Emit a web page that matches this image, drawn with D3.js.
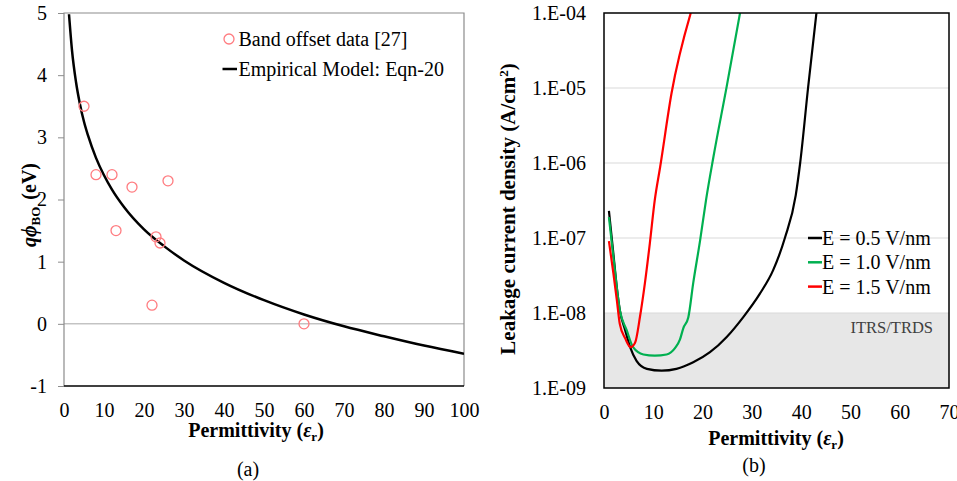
<!DOCTYPE html>
<html>
<head>
<meta charset="utf-8">
<script src="https://cdn.jsdelivr.net/npm/d3@7"></script>
<style>
  body { margin: 0; background: #fff; }
  svg, svg text { font-family: "Liberation Serif", "Times New Roman", serif; }
</style>
</head>
<body>
<div id="chart"></div>
<script>
// (a) band offset data points [permittivity, q*phi_BO]
var bandOffsetData = [[5, 3.5], [8, 2.4], [12, 2.4], [17, 2.2], [26, 2.3], [13, 1.5], [23, 1.4], [24, 1.3], [22, 0.3], [60, 0]];
// (a) empirical model curve
var modelCurve = [[1.25, 4.98], [2, 4.4], [3, 3.89], [4, 3.53], [5, 3.25], [6, 3.03], [8, 2.67], [10, 2.39], [12, 2.16], [15, 1.88], [20, 1.52], [25, 1.25], [30, 1.02], [40, 0.66], [50, 0.38], [60, 0.15], [70, -0.04], [80, -0.2], [90, -0.35], [100, -0.48]];
var aTicksX = [0, 10, 20, 30, 40, 50, 60, 70, 80, 90, 100];
var aTicksY = [-1, 0, 1, 2, 3, 4, 5];

// (b) leakage current density vs permittivity
var leak05 = [[1, 2.3e-7], [1.9, 6.2e-8], [2.6, 2.2e-8], [3.2, 1.1e-8], [4.3, 5.9e-9], [5.3, 3.5e-9], [6.6, 2.3e-9], [8.7, 1.8e-9], [11.7, 1.7e-9], [14.7, 1.8e-9], [18.1, 2.2e-9], [21.5, 3.0e-9], [24.9, 4.8e-9], [28.3, 8.9e-9], [31.6, 1.8e-8], [34.3, 3.7e-8], [36.7, 1.0e-7], [38.9, 3.7e-7], [39.8, 1.0e-6], [41.4, 1.0e-5], [43.1, 1.0e-4]];
var leak10 = [[1, 1.9e-7], [1.9, 5.6e-8], [3.2, 1.1e-8], [4.6, 5.9e-9], [5.9, 3.5e-9], [8, 2.8e-9], [10.3, 2.7e-9], [12.7, 2.8e-9], [14.4, 3.4e-9], [15.4, 4.4e-9], [16.1, 6.3e-9], [17.1, 8.7e-9], [18.1, 2.5e-8], [19.5, 9.3e-8], [20.7, 3.2e-7], [22.2, 1.2e-6], [24.9, 1.05e-5], [27.6, 1.0e-4]];
var leak15 = [[1, 9.1e-8], [1.9, 3.4e-8], [2.6, 1.5e-8], [3.2, 7.2e-9], [4.3, 4.6e-9], [5.4, 3.5e-9], [6.3, 4.0e-9], [7.3, 8.9e-9], [8.3, 2.5e-8], [9.3, 8.5e-8], [10.3, 3.2e-7], [11.4, 8.9e-7], [13.7, 8.5e-6], [17.6, 1.0e-4]];
var bSeriesNames = ['E = 0.5 V/nm', 'E = 1.0 V/nm', 'E = 1.5 V/nm'];
var bColors = ['#000000', '#00b050', '#ff0000'];
var bTicksX = [0, 10, 20, 30, 40, 50, 60, 70];
var bTicksY = [1e-9, 1e-8, 1e-7, 1e-6, 1e-5, 1e-4];
var bTickLabels = ['1.E-09', '1.E-08', '1.E-07', '1.E-06', '1.E-05', '1.E-04'];
var itrsLimit = 1e-8;

var serif = '"Liberation Serif", "Times New Roman", serif';

var svg = d3.select('#chart').append('svg')
    .attr('width', 957)
    .attr('height', 481)
    .attr('font-family', serif);

function styleAxis(g) {
    g.attr('font-family', serif).attr('font-size', 20);
    g.select('.domain').remove();
    g.selectAll('line').attr('stroke', '#8c8c8c');
    g.selectAll('text').attr('fill', '#000');
}

// ---------- panel (a) ----------
var ax = d3.scaleLinear().domain([0, 100]).range([64, 464]);
var ay = d3.scaleLinear().domain([-1, 5]).range([386, 13]);

var gA = svg.append('g');

// zero line
gA.append('line')
    .attr('x1', ax(0)).attr('x2', ax(100))
    .attr('y1', ay(0)).attr('y2', ay(0))
    .attr('stroke', '#a6a6a6').attr('stroke-width', 1);

// frame: grey left/top/right, dark bottom
gA.append('path')
    .attr('d', 'M' + ax(0) + ',' + ay(-1) + 'V' + ay(5) + 'H' + ax(100) + 'V' + ay(-1))
    .attr('fill', 'none')
    .attr('stroke', '#8c8c8c')
    .attr('stroke-width', 1.2);
gA.append('line')
    .attr('x1', ax(0)).attr('x2', ax(100))
    .attr('y1', ay(-1)).attr('y2', ay(-1))
    .attr('stroke', '#000').attr('stroke-width', 1.5);

gA.append('g')
    .attr('transform', 'translate(' + ax(0) + ',0)')
    .call(d3.axisLeft(ay).tickValues(aTicksY).tickSize(6).tickPadding(11)
        .tickFormat(function (d) { return String(d); }))
    .call(styleAxis);
gA.append('g')
    .attr('transform', 'translate(0,' + ay(-1) + ')')
    .call(d3.axisBottom(ax).tickValues(aTicksX).tickSize(0).tickPadding(17)
        .tickFormat(function (d) { return String(d); }))
    .call(styleAxis);

gA.append('defs').append('clipPath').attr('id', 'clipA')
    .append('rect')
    .attr('x', ax(0)).attr('y', ay(5))
    .attr('width', ax(100) - ax(0)).attr('height', ay(-1) - ay(5));

var lineA = d3.line()
    .x(function (d) { return ax(d[0]); })
    .y(function (d) { return ay(d[1]); })
    .curve(d3.curveMonotoneX);

gA.append('path')
    .datum(modelCurve)
    .attr('clip-path', 'url(#clipA)')
    .attr('d', lineA)
    .attr('fill', 'none')
    .attr('stroke', '#000')
    .attr('stroke-width', 2.5);

gA.selectAll('circle.pt')
    .data(bandOffsetData)
    .enter().append('circle')
    .attr('class', 'pt')
    .attr('cx', function (d) { return ax(d[0]); })
    .attr('cy', function (d) { return ay(d[1]); })
    .attr('r', 5)
    .attr('fill', 'none')
    .attr('stroke', '#ff7c80')
    .attr('stroke-width', 1.3);

// legend (a)
gA.append('circle')
    .attr('cx', 229).attr('cy', 39).attr('r', 5)
    .attr('fill', 'none').attr('stroke', '#ff7c80').attr('stroke-width', 1.3);
gA.append('text')
    .attr('x', 238.5).attr('y', 39).attr('dy', '0.35em')
    .attr('font-size', 20)
    .text('Band offset data [27]');
gA.append('line')
    .attr('x1', 222.5).attr('x2', 237).attr('y1', 69).attr('y2', 69)
    .attr('stroke', '#000').attr('stroke-width', 2.5);
gA.append('text')
    .attr('x', 238.5).attr('y', 69).attr('dy', '0.35em')
    .attr('font-size', 20)
    .text('Empirical Model: Eqn-20');

// axis titles (a)
var yTitleA = gA.append('text')
    .attr('transform', 'translate(36,205)rotate(-90)')
    .attr('text-anchor', 'middle')
    .attr('font-size', 20)
    .attr('font-weight', 'bold');
yTitleA.append('tspan').attr('font-style', 'italic').text('q');
yTitleA.append('tspan').attr('font-style', 'italic').text('\u03d5');
yTitleA.append('tspan').attr('dy', 4).attr('font-size', 13).text('BO');
yTitleA.append('tspan').attr('dy', -4).attr('dx', 7).text('(eV)');

function permTitle(g, x, y) {
    var t = g.append('text')
        .attr('x', x).attr('y', y)
        .attr('text-anchor', 'middle')
        .attr('font-size', 20)
        .attr('font-weight', 'bold');
    t.append('tspan').text('Permittivity (');
    t.append('tspan').attr('font-style', 'italic').text('\u03b5');
    t.append('tspan').attr('dy', 4).attr('font-size', 13).text('r');
    t.append('tspan').attr('dy', -4).text(')');
}
permTitle(gA, 256, 437);

gA.append('text')
    .attr('x', 248).attr('y', 476)
    .attr('text-anchor', 'middle')
    .attr('font-size', 20)
    .text('(a)');

// ---------- panel (b) ----------
var bx = d3.scaleLinear().domain([0, 70]).range([604, 949]);
var by = d3.scaleLog().domain([1e-9, 1e-4]).range([388, 13]);

var gB = svg.append('g');

// ITRS/TRDS band
gB.append('rect')
    .attr('x', bx(0)).attr('y', by(itrsLimit))
    .attr('width', bx(70) - bx(0))
    .attr('height', by(1e-9) - by(itrsLimit))
    .attr('fill', '#e7e7e7');

gB.selectAll('line.grid')
    .data(bTicksY.slice(1, -1))
    .enter().append('line')
    .attr('class', 'grid')
    .attr('x1', bx(0)).attr('x2', bx(70))
    .attr('y1', function (d) { return by(d); })
    .attr('y2', function (d) { return by(d); })
    .attr('stroke', '#d9d9d9')
    .attr('stroke-width', 1.2);

gB.append('text')
    .attr('x', 933).attr('y', 327).attr('dy', '0.35em')
    .attr('text-anchor', 'end')
    .attr('fill', '#404040')
    .attr('font-size', 16.5)
    .text('ITRS/TRDS');

gB.append('g')
    .attr('transform', 'translate(' + bx(0) + ',0)')
    .call(d3.axisLeft(by).tickValues(bTicksY).tickSize(0).tickPadding(18)
        .tickFormat(function (d, i) { return bTickLabels[i]; }))
    .call(styleAxis);
gB.append('g')
    .attr('transform', 'translate(0,' + by(1e-9) + ')')
    .call(d3.axisBottom(bx).tickValues(bTicksX).tickSize(0).tickPadding(17)
        .tickFormat(function (d) { return String(d); }))
    .call(styleAxis);

gB.append('defs').append('clipPath').attr('id', 'clipB')
    .append('rect')
    .attr('x', bx(0)).attr('y', by(1e-4))
    .attr('width', bx(70) - bx(0)).attr('height', by(1e-9) - by(1e-4));

var lineB = d3.line()
    .x(function (d) { return bx(d[0]); })
    .y(function (d) { return by(d[1]); })
    .curve(d3.curveMonotoneX);

var bSeries = [leak05, leak10, leak15];
gB.selectAll('path.series')
    .data(bSeries)
    .enter().append('path')
    .attr('class', 'series')
    .attr('clip-path', 'url(#clipB)')
    .attr('d', lineB)
    .attr('fill', 'none')
    .attr('stroke', function (d, i) { return bColors[i]; })
    .attr('stroke-width', 2.2);

gB.append('rect')
    .attr('x', bx(0)).attr('y', by(1e-4))
    .attr('width', bx(70) - bx(0)).attr('height', by(1e-9) - by(1e-4))
    .attr('fill', 'none')
    .attr('stroke', '#000')
    .attr('stroke-width', 1.5);

// legend (b)
var legB = gB.selectAll('g.leg')
    .data(bSeriesNames)
    .enter().append('g')
    .attr('class', 'leg')
    .attr('transform', function (d, i) { return 'translate(808,' + (238 + i * 24.3) + ')'; });
legB.append('line')
    .attr('x1', 0).attr('x2', 14)
    .attr('stroke', function (d, i) { return bColors[i]; })
    .attr('stroke-width', 2.5);
legB.append('text')
    .attr('x', 14).attr('dy', '0.35em')
    .attr('font-size', 20)
    .text(function (d) { return d; });

// axis titles (b)
var yTitleB = gB.append('text')
    .attr('transform', 'translate(515,209)rotate(-90)')
    .attr('text-anchor', 'middle')
    .attr('font-size', 21)
    .attr('font-weight', 'bold');
yTitleB.append('tspan').text('Leakage current density (A/cm');
yTitleB.append('tspan').attr('dy', -7).attr('font-size', 13).text('2');
yTitleB.append('tspan').attr('dy', 7).text(')');

permTitle(gB, 776, 445);

gB.append('text')
    .attr('x', 754).attr('y', 472)
    .attr('text-anchor', 'middle')
    .attr('font-size', 20)
    .text('(b)');
</script>
</body>
</html>
